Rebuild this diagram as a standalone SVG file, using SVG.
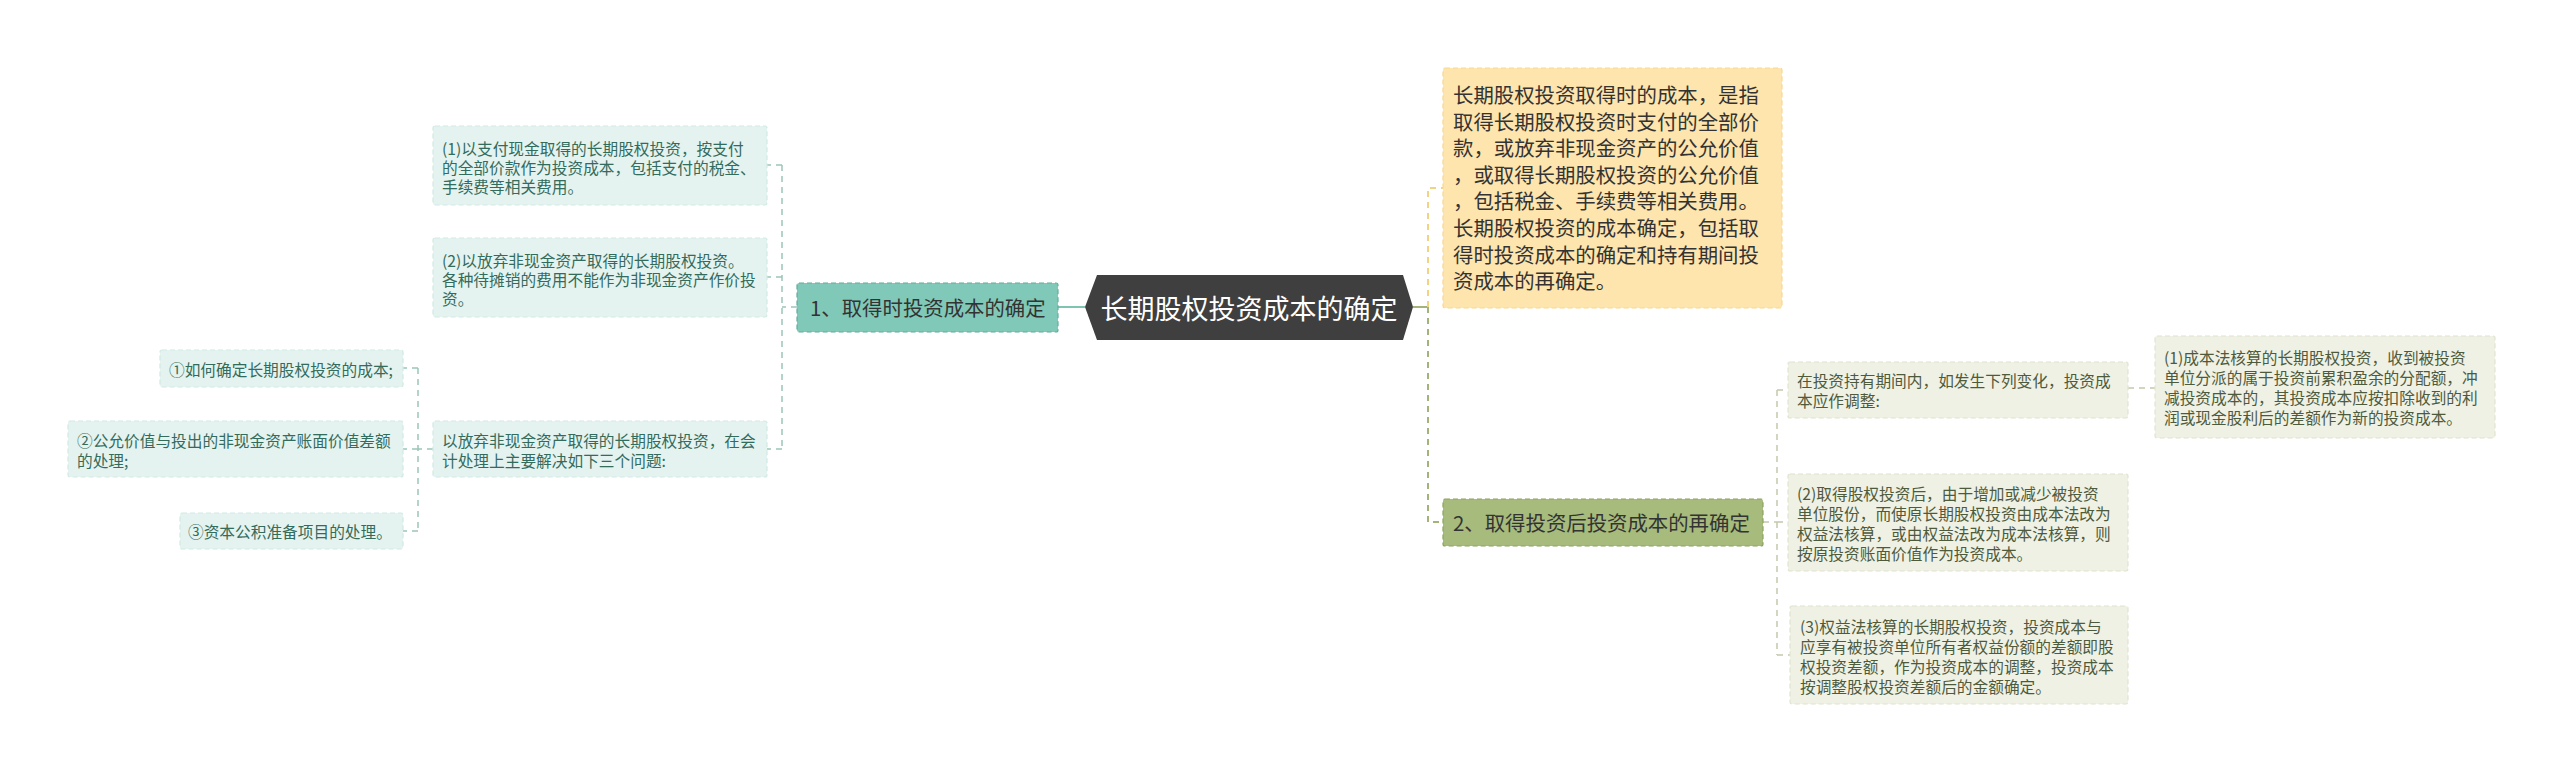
<svg xmlns="http://www.w3.org/2000/svg" width="2560" height="773" viewBox="0 0 2560 773">
<style>
text{font-family:"Noto Sans CJK SC","Noto Sans",sans-serif;dominant-baseline:central}
.lf rect{fill:#e4f3ef;stroke:#d2eae3;stroke-width:1.2;stroke-dasharray:5 3}
.lf text{font-size:15.7px;fill:#336b5c}
.rf rect{fill:#eef1e4;stroke:#dfe4cf;stroke-width:1.2;stroke-dasharray:5 3}
.rf text{font-size:15.7px;fill:#4e5a3c}
.big{font-size:20.4px;fill:#333}
.cl{fill:none;stroke:#9cc5ba;stroke-width:1.5;stroke-dasharray:6 5}
.cr{fill:none;stroke:#c4c9ad;stroke-width:1.5;stroke-dasharray:6 5}
</style>
<rect width="2560" height="773" fill="#ffffff"/>
<g id="connectors">
<path d="M1058,307H1085" fill="none" stroke="#7fc4b3" stroke-width="2"/>
<path class="cl" d="M797,307H782M782,165V449M782,165H767M782,277H767M782,449H767"/>
<path class="cl" d="M433,449H418M418,368V531M418,368H403M418,449H403M418,531H403"/>
<path d="M1413,307H1428" fill="none" stroke="#a3b47a" stroke-width="2"/>
<path d="M1428,307V188H1443" fill="none" stroke="#f2d384" stroke-width="2" stroke-dasharray="6 5"/>
<path d="M1428,307V522H1443" fill="none" stroke="#a3b47a" stroke-width="2" stroke-dasharray="6 5"/>
<path class="cr" d="M1763,522H1777M1777,390V655M1777,390H1788M1777,522H1788M1777,655H1790"/>
<path class="cr" d="M2128,388H2155"/>
</g>
<g id="root">
<polygon points="1085,307 1097,275 1403,275 1413,307 1403,340 1097,340" fill="#3f3f3f"/>
<text x="1249" y="307" font-size="27" fill="#ffffff" text-anchor="middle">长期股权投资成本的确定</text>
</g>
<g id="n1">
<rect x="797" y="283" width="261" height="49" rx="2" fill="#80c9b8" stroke="#5fae9c" stroke-width="1.2" stroke-dasharray="5 3"/>
<text class="big" x="810" y="307">1、取得时投资成本的确定</text>
</g>
<g id="n1a" class="lf">
<rect x="433" y="126" width="334" height="79" rx="2"/>
<text x="442" y="148">(1)以支付现金取得的长期股权投资，按支付</text>
<text x="442" y="167">的全部价款作为投资成本，包括支付的税金、</text>
<text x="442" y="186">手续费等相关费用。</text>
</g>
<g id="n1b" class="lf">
<rect x="433" y="238" width="334" height="79" rx="2"/>
<text x="442" y="260">(2)以放弃非现金资产取得的长期股权投资。</text>
<text x="442" y="279">各种待摊销的费用不能作为非现金资产作价投</text>
<text x="442" y="298">资。</text>
</g>
<g id="n1c" class="lf">
<rect x="433" y="421" width="334" height="56" rx="2"/>
<text x="442" y="440">以放弃非现金资产取得的长期股权投资，在会</text>
<text x="442" y="460">计处理上主要解决如下三个问题:</text>
</g>
<g id="n1c1" class="lf">
<rect x="160" y="350" width="243" height="37" rx="2"/>
<text x="169" y="369">①如何确定长期股权投资的成本;</text>
</g>
<g id="n1c2" class="lf">
<rect x="68" y="421" width="335" height="56" rx="2"/>
<text x="77" y="440">②公允价值与投出的非现金资产账面价值差额</text>
<text x="77" y="460">的处理;</text>
</g>
<g id="n1c3" class="lf">
<rect x="180" y="513" width="223" height="36" rx="2"/>
<text x="188" y="531">③资本公积准备项目的处理。</text>
</g>
<g id="yellow">
<rect x="1443" y="68" width="339" height="240" rx="2" fill="#fee4ad" stroke="#f8d88f" stroke-width="1.2" stroke-dasharray="5 3"/>
<text class="big" x="1453" y="94">长期股权投资取得时的成本，是指</text>
<text class="big" x="1453" y="120.6">取得长期股权投资时支付的全部价</text>
<text class="big" x="1453" y="147.2">款，或放弃非现金资产的公允价值</text>
<text class="big" x="1453" y="173.8">，或取得长期股权投资的公允价值</text>
<text class="big" x="1453" y="200.4">，包括税金、手续费等相关费用。</text>
<text class="big" x="1453" y="227">长期股权投资的成本确定，包括取</text>
<text class="big" x="1453" y="253.6">得时投资成本的确定和持有期间投</text>
<text class="big" x="1453" y="280.2">资成本的再确定。</text>
</g>
<g id="n2">
<rect x="1443" y="499" width="320" height="47" rx="2" fill="#a6bb7c" stroke="#8ca35e" stroke-width="1.2" stroke-dasharray="5 3"/>
<text class="big" x="1453" y="522">2、取得投资后投资成本的再确定</text>
</g>
<g id="n2a" class="rf">
<rect x="1788" y="362" width="340" height="56" rx="2"/>
<text x="1797" y="380">在投资持有期间内，如发生下列变化，投资成</text>
<text x="1797" y="400">本应作调整:</text>
</g>
<g id="n2a1" class="rf">
<rect x="2155" y="336" width="340" height="102" rx="2"/>
<text x="2164" y="357">(1)成本法核算的长期股权投资，收到被投资</text>
<text x="2164" y="377">单位分派的属于投资前累积盈余的分配额，冲</text>
<text x="2164" y="397">减投资成本的，其投资成本应按扣除收到的利</text>
<text x="2164" y="417">润或现金股利后的差额作为新的投资成本。</text>
</g>
<g id="n2b" class="rf">
<rect x="1788" y="474" width="340" height="97" rx="2"/>
<text x="1797" y="493">(2)取得股权投资后，由于增加或减少被投资</text>
<text x="1797" y="513">单位股份，而使原长期股权投资由成本法改为</text>
<text x="1797" y="533">权益法核算，或由权益法改为成本法核算，则</text>
<text x="1797" y="553">按原投资账面价值作为投资成本。</text>
</g>
<g id="n2c" class="rf">
<rect x="1790" y="606" width="338" height="98" rx="2"/>
<text x="1800" y="626">(3)权益法核算的长期股权投资，投资成本与</text>
<text x="1800" y="646">应享有被投资单位所有者权益份额的差额即股</text>
<text x="1800" y="666">权投资差额，作为投资成本的调整，投资成本</text>
<text x="1800" y="686">按调整股权投资差额后的金额确定。</text>
</g>
</svg>
